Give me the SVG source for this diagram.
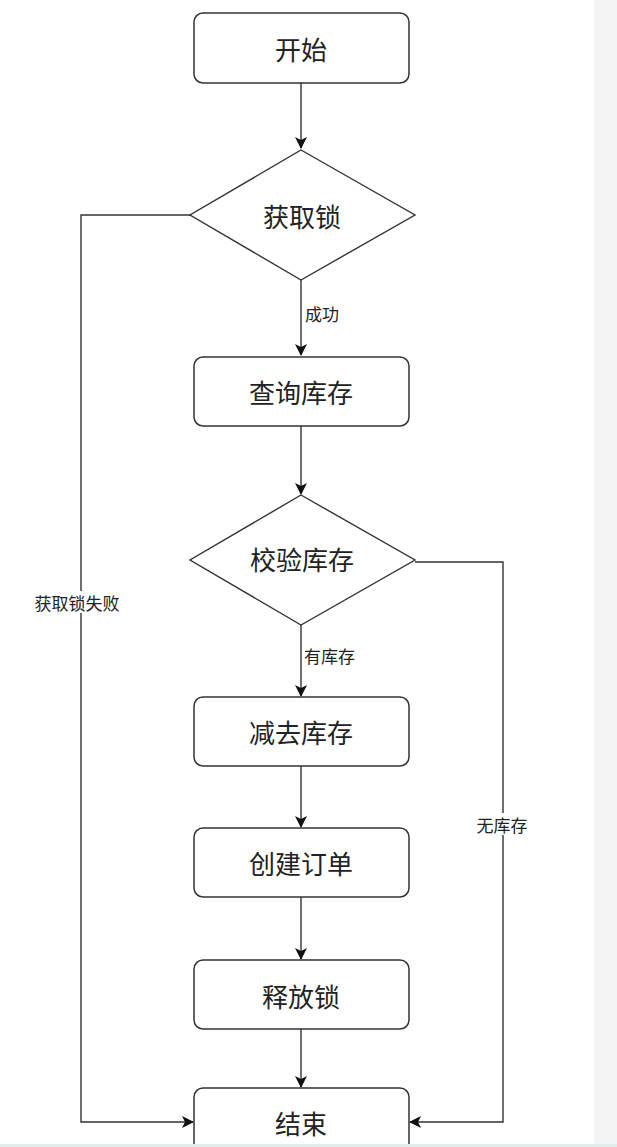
<svg xmlns="http://www.w3.org/2000/svg" width="617" height="1147" viewBox="0 0 617 1147">
<defs>
<style>
.box{fill:#fff;stroke:#333;stroke-width:1.5}
.dia{fill:#fff;stroke:#333;stroke-width:1.4}
.t{font-family:"Noto Sans CJK SC","Liberation Sans",sans-serif;font-size:26px;fill:#222;text-anchor:middle;dominant-baseline:central}
.lb{font-family:"Noto Sans CJK SC","Liberation Sans",sans-serif;font-size:17px;fill:#222;dominant-baseline:central}
.c{fill:none;stroke:#333;stroke-width:1.4}
</style>
<marker id="ah" markerWidth="12" markerHeight="12" refX="11" refY="6" orient="auto" markerUnits="userSpaceOnUse">
<path d="M0,0 L12,6 L0,12 L3,6 Z" fill="#111"/>
</marker>
</defs>
<rect width="617" height="1147" fill="#fff"/>
<rect x="594" y="0" width="23" height="1147" fill="#f4f4f4"/>
<g id="connectors">
<path class="c" d="M301,83 V148" marker-end="url(#ah)"/>
<path class="c" d="M301,280 V355" marker-end="url(#ah)"/>
<path class="c" d="M301,426 V494" marker-end="url(#ah)"/>
<path class="c" d="M301,625 V696" marker-end="url(#ah)"/>
<path class="c" d="M301,766 V827" marker-end="url(#ah)"/>
<path class="c" d="M301,897 V959" marker-end="url(#ah)"/>
<path class="c" d="M301,1029 V1087" marker-end="url(#ah)"/>
<path class="c" d="M190,215 H81 V1122 H193" marker-end="url(#ah)"/>
<path class="c" d="M415,562 H503 V1122 H410" marker-end="url(#ah)"/>
<rect x="30" y="591" width="95" height="22" fill="#fff"/>
<text class="lb" x="77" y="602" text-anchor="middle">获取锁失败</text>
<text class="lb" x="305" y="313">成功</text>
<text class="lb" x="304" y="655">有库存</text>
<rect x="474" y="813" width="58" height="22" fill="#fff"/>
<text class="lb" x="502" y="824" text-anchor="middle">无库存</text>
</g>
<g id="start"><rect class="box" x="194" y="13" width="215" height="70" rx="9"/><text class="t" x="301" y="48">开始</text></g>
<g id="getlock"><polygon class="dia" points="301,150 415,215 301,280 190,215"/><text class="t" x="302" y="215">获取锁</text></g>
<g id="query"><rect class="box" x="194" y="357" width="215" height="69" rx="9"/><text class="t" x="301" y="391">查询库存</text></g>
<g id="check"><polygon class="dia" points="301,495 415,560 301,625 190,560"/><text class="t" x="302" y="558">校验库存</text></g>
<g id="reduce"><rect class="box" x="194" y="697" width="215" height="69" rx="9"/><text class="t" x="301" y="731">减去库存</text></g>
<g id="order"><rect class="box" x="194" y="828" width="215" height="69" rx="9"/><text class="t" x="301" y="862">创建订单</text></g>
<g id="release"><rect class="box" x="194" y="960" width="215" height="69" rx="9"/><text class="t" x="301" y="995">释放锁</text></g>
<g id="end"><rect class="box" x="194" y="1088" width="215" height="75" rx="9"/><text class="t" x="301" y="1122">结束</text></g>
<rect x="0" y="1144" width="617" height="3" fill="#e3ecec"/>
</svg>
